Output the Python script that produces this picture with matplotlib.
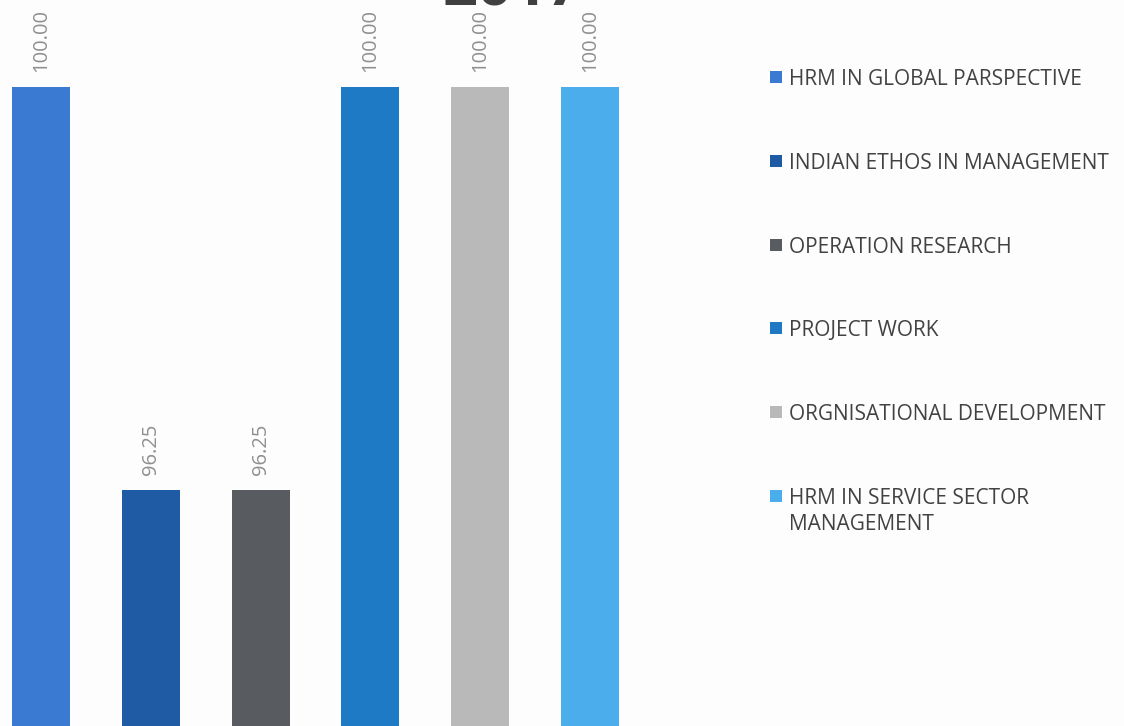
import matplotlib
matplotlib.use("Agg")
import matplotlib.pyplot as plt
from matplotlib.patches import Rectangle

subjects = ["HRM IN GLOBAL PARSPECTIVE", "INDIAN ETHOS IN MANAGEMENT",
            "OPERATION RESEARCH", "PROJECT WORK",
            "ORGNISATIONAL DEVELOPMENT", "HRM IN SERVICE SECTOR\nMANAGEMENT"]
values = [100.00, 96.25, 96.25, 100.00, 100.00, 100.00]
colors = ["#3b7ad2", "#1f5aa4", "#585c60", "#1f7ac6", "#b9b9b9", "#4badec"]
title_text = "2017"

W, H = 1124, 726
fig = plt.figure(figsize=(W / 100, H / 100), dpi=100)
fig.patch.set_facecolor("#fdfdfd")

# axes placement in pixels
ax_left, ax_right = -13.9, 644.9
ax = fig.add_axes([ax_left / W, 0, (ax_right - ax_left) / W, 1])
ax.set_facecolor("none")
xs = list(range(len(values)))
ax.bar(xs, values, width=0.53, color=colors)
ax.set_xlim(-0.5, len(values) - 0.5)
ax.set_ylim(94.05, 100.81)
for s in ax.spines.values():
    s.set_visible(False)
ax.set_xticks([])
ax.set_yticks([])

for x, v in zip(xs, values):
    ax.annotate(f"{v:.2f}", (x, v), xytext=(0, 10.5), textcoords="offset points",
                rotation=90, ha="center", va="bottom", color="#8f8f8f",
                fontsize=14.5, family="Open Sans")

fig.text(512 / W, 1 - 6 / H, title_text, ha="center", va="baseline",
         fontsize=44, fontweight="bold", color="#404040", family="Open Sans")

# legend (drawn manually so the square aligns with the first line)
leg_y0, leg_dy = 77, 83.8
sq = 12
for i, (lab, c) in enumerate(zip(subjects, colors)):
    yc = leg_y0 + i * leg_dy
    fig.add_artist(Rectangle((770 / W, 1 - (yc + sq / 2) / H), sq / W, sq / H,
                             transform=fig.transFigure, facecolor=c,
                             edgecolor="none"))
    fig.text(789 / W, 1 - (yc - 8) / H, lab, ha="left", va="top",
             fontsize=15, color="#424242", family="Open Sans",
             linespacing=1.3)

fig.savefig("out.png", dpi=100, facecolor=fig.get_facecolor())
